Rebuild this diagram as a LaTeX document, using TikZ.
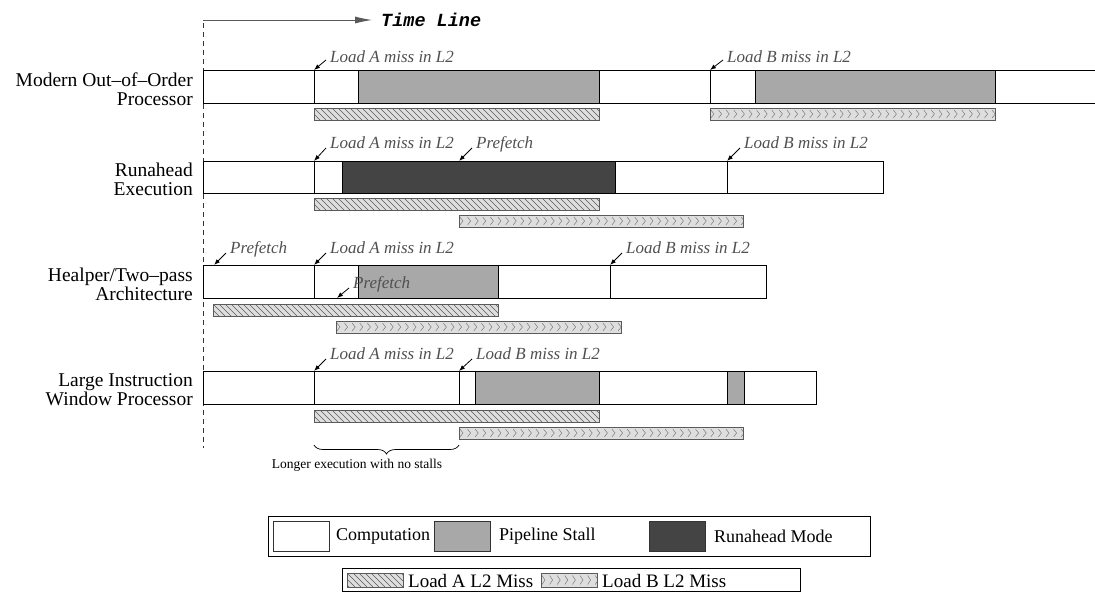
\documentclass[tikz,border=0pt]{standalone}
\usepackage{fontspec}
\setmainfont{Liberation Serif}
\setmonofont{Liberation Mono}
\usetikzlibrary{arrows.meta,decorations.pathreplacing,calc}

\definecolor{stallgray}{HTML}{A8A8A8}
\definecolor{rundark}{HTML}{444444}
\definecolor{hatchfill}{HTML}{DEDEDE}
\definecolor{hatchline}{HTML}{5A5A5A}
\definecolor{notegray}{HTML}{505050}

\tikzset{
  seg/.style={draw=black, line width=0.9pt},
  comp/.style={seg, fill=white},
  stall/.style={seg, fill=stallgray},
  runahead/.style={seg, fill=rundark},
  rowlabel/.style={font=\fontsize{19.5}{19}\selectfont, align=right, anchor=east, inner sep=0pt},
  note/.style={font=\fontsize{17}{18}\selectfont\itshape, text=notegray, anchor=base west, inner sep=0pt},
  ptr/.style={-{Latex[length=6pt,width=4.5pt]}, line width=0.8pt},
  barframe/.style={draw=hatchline, line width=0.7pt},
  legtext/.style={font=\fontsize{18}{20}\selectfont, anchor=west, inner sep=0pt},
  swatch/.style={draw=black!80, line width=0.7pt, minimum width=56pt, minimum height=30pt, inner sep=0pt},
}

% Load-A miss bar: diagonal hatching, x1, x2, top edge, height
\newcommand\missbarA[4]{%
  \begin{scope}
    \clip (#1,#3) rectangle (#2,#3+#4);
    \fill[hatchfill] (#1,#3) rectangle (#2,#3+#4);
    \foreach \i in {0,...,52}
      \draw[hatchline, line width=0.5pt] (#1-12+6*\i,#3) -- (#1-12+6*\i+#4,#3+#4);
  \end{scope}
  \draw[barframe] (#1,#3) rectangle (#2,#3+#4);
}
% Load-B miss bar: chevron pattern
\newcommand\missbarB[4]{%
  \begin{scope}
    \clip (#1,#3) rectangle (#2,#3+#4);
    \fill[hatchfill] (#1,#3) rectangle (#2,#3+#4);
    \foreach \i in {0,...,42}
      \draw[hatchline!80, line width=0.5pt]
        (#1+1+7.6*\i,#3+0.18*#4) -- (#1+4+7.6*\i,#3+0.5*#4) -- (#1+1+7.6*\i,#3+0.82*#4);
  \end{scope}
  \draw[barframe] (#1,#3) rectangle (#2,#3+#4);
}

\begin{document}
\begin{tikzpicture}[x=1pt, y=-1pt]
\useasboundingbox (0,0) rectangle (1095,592);

% time axis
\coordinate (t0) at (203,20);
\coordinate (t1) at (372,20);
\draw[draw=black!65, line width=0.8pt, -{Latex[length=17pt,width=7pt]}] (t0) -- (t1);
\node[font=\fontsize{18.5}{20}\selectfont\ttfamily\bfseries\itshape, anchor=west, inner sep=0pt] (tl) at (381,20) {Time Line};
\draw[dash pattern=on 5pt off 4pt, line width=0.7pt, black!80] (203,23) coordinate (d0) -- (203,448) coordinate (d1);

% ---------- row 1: modern out-of-order processor ----------
\node[rowlabel] (r1) at (193,89) {Modern Out--of--Order\\Processor};
\draw[comp] (203,70) rectangle (1100,103);
\draw[stall] (358,70) rectangle (599,103);
\draw[stall] (755,70) rectangle (995,103);
\draw[seg] (314,70) coordinate (a1) -- (314,103);
\draw[seg] (710,70) coordinate (b1) -- (710,103);
\missbarA{314}{599}{108}{12}
\missbarB{710}{995}{108}{12}
\node[note] (la1) at ($(a1)+(16,-8)$) {Load A miss in L2};
\node[note] (lb1) at ($(b1)+(17,-8)$) {Load B miss in L2};
\draw[ptr] ($(la1.base west)+(-4,-2)$) -- (a1);
\draw[ptr] ($(lb1.base west)+(-4,-2)$) -- (b1);

% ---------- row 2: runahead execution ----------
\node[rowlabel] (r2) at (193,179) {Runahead\\Execution};
\draw[comp] (203,161) rectangle (883,193);
\draw[runahead] (342,161) rectangle (615,193);
\draw[seg] (314,161) coordinate (a2) -- (314,193);
\draw[seg] (727,161) coordinate (b2) -- (727,193);
\coordinate (p2) at (459,161);
\missbarA{314}{599}{198}{12}
\missbarB{459}{743}{215}{12}
\node[note] (la2) at ($(a2)+(16,-13)$) {Load A miss in L2};
\node[note] (lp2) at ($(p2)+(17,-13)$) {Prefetch};
\node[note] (lb2) at ($(b2)+(17,-13)$) {Load B miss in L2};
\draw[ptr] ($(la2.base west)+(-4,0)$) -- (a2);
\draw[ptr] ($(lp2.base west)+(-4,0)$) -- (p2);
\draw[ptr] ($(lb2.base west)+(-4,0)$) -- (b2);

% ---------- row 3: helper / two-pass architecture ----------
\node[rowlabel] (r3) at (193,284) {Healper/Two--pass\\Architecture};
\draw[comp] (203,265) rectangle (766,298);
\draw[stall] (358,265) rectangle (498,298);
\draw[seg] (314,265) coordinate (a3) -- (314,298);
\draw[seg] (610,265) coordinate (b3) -- (610,298);
\coordinate (p3) at (214,265);
\coordinate (q3) at (337,298);
\missbarA{213}{498}{304}{12}
\missbarB{336}{621}{321}{12}
\node[note] (lp3) at ($(p3)+(16,-12)$) {Prefetch};
\node[note] (la3) at ($(a3)+(16,-12)$) {Load A miss in L2};
\node[note] (lb3) at ($(b3)+(16,-12)$) {Load B miss in L2};
\node[note] (lq3) at ($(q3)+(16,-10)$) {Prefetch};
\draw[ptr] ($(lp3.base west)+(-4,0)$) -- (p3);
\draw[ptr] ($(la3.base west)+(-4,0)$) -- (a3);
\draw[ptr] ($(lb3.base west)+(-4,0)$) -- (b3);
\draw[ptr] ($(lq3.base west)+(-4,0)$) -- (q3);

% ---------- row 4: large instruction window processor ----------
\node[rowlabel] (r4) at (193,390) {Large Instruction\\Window Processor};
\draw[comp] (203,371) rectangle (816,404);
\draw[stall] (475,371) rectangle (599,404);
\draw[stall] (727,371) rectangle (744,404);
\draw[seg] (314,371) coordinate (a4) -- (314,404);
\draw[seg] (459,371) coordinate (b4) -- (459,404);
\missbarA{314}{599}{410}{12}
\missbarB{459}{743}{427}{12}
\node[note] (la4) at ($(a4)+(16,-12)$) {Load A miss in L2};
\node[note] (lb4) at ($(b4)+(17,-12)$) {Load B miss in L2};
\draw[ptr] ($(la4.base west)+(-4,0)$) -- (a4);
\draw[ptr] ($(lb4.base west)+(-4,0)$) -- (b4);

\coordinate (br0) at (314,445);
\coordinate (br1) at (459,445);
\draw[line width=0.7pt, decorate, decoration={brace, mirror, amplitude=9pt}] (br0) -- (br1);
\node[font=\fontsize{13.5}{15}\selectfont, inner sep=0pt] (longer) at (357,465) {Longer execution with no stalls};

% ---------- legend ----------
\draw[line width=0.8pt] (268,516) rectangle (870,556);
\node[swatch, fill=white, anchor=west] (kw) at (273,536) {};
\node[legtext] (kwt) at (336,536) {Computation};
\node[swatch, fill=stallgray, anchor=west] (kg) at (434,536) {};
\node[legtext] (kgt) at (499,536) {Pipeline Stall};
\node[swatch, fill=rundark, anchor=west] (kd) at (649,536) {};
\node[legtext] (kdt) at (714,536) {Runahead Mode};

\draw[line width=0.8pt] (342,568) rectangle (800,591.5);
\missbarA{347}{403}{573}{14}
\node[legtext, font=\fontsize{19}{20}\selectfont] (kat) at (408,580.5) {Load A L2 Miss};
\missbarB{541}{597}{573}{14}
\node[legtext, font=\fontsize{19}{20}\selectfont] (kbt) at (602,580.5) {Load B L2 Miss};
\end{tikzpicture}
\end{document}
